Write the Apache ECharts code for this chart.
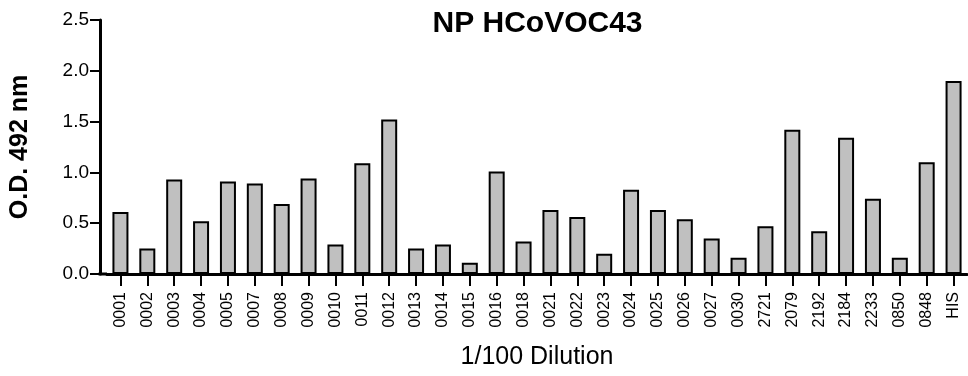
<!DOCTYPE html>
<html>
<head>
<meta charset="utf-8">
<script src="https://cdn.jsdelivr.net/npm/echarts@6/dist/echarts.min.js"></script>
<style>
  html, body { margin: 0; padding: 0; background: #fff; }
  #chart { width: 968px; height: 376px; }
</style>
</head>
<body>
<div id="chart"></div>
<script>
// Sample IDs along the x axis
const samples = ['0001','0002','0003','0004','0005','0007','0008','0009','0010','0011',
  '0012','0013','0014','0015','0016','0018','0021','0022','0023','0024','0025','0026',
  '0027','0030','2721','2079','2192','2184','2233','0850','0848','HIS'];

// Optical density at 492 nm for each sample
const odValues = [0.61, 0.25, 0.93, 0.52, 0.91, 0.89, 0.69, 0.94, 0.29, 1.09,
  1.52, 0.25, 0.29, 0.11, 1.01, 0.32, 0.63, 0.56, 0.20, 0.83, 0.63, 0.54,
  0.35, 0.16, 0.47, 1.42, 0.42, 1.34, 0.74, 0.16, 1.10, 1.90];

// Y axis tick range
const yTicks = { min: 0, max: 2.5, step: 0.5 };

const FONT = '"Liberation Sans", Arial, Helvetica, sans-serif';
const GRID = { left: 107, right: 1, top: 20, bottom: 102 };
const Y_OFFSET = 7;

const chart = echarts.init(document.getElementById('chart'), null, { renderer: 'canvas' });

chart.setOption({
  animation: false,
  backgroundColor: '#ffffff',
  title: {
    text: 'NP HCoVOC43',
    left: (GRID.left - Y_OFFSET + 968 - GRID.right) / 2 - 1,
    top: 4,
    textAlign: 'center',
    textStyle: { fontFamily: FONT, fontSize: 30, fontWeight: 'bold', color: '#000' }
  },
  grid: GRID,
  xAxis: {
    type: 'category',
    data: samples,
    boundaryGap: true,
    name: '1/100 Dilution',
    nameLocation: 'middle',
    nameGap: 71,
    nameTextStyle: { fontFamily: FONT, fontSize: 25, color: '#000' },
    axisLine: { show: true, lineStyle: { color: '#000', width: 3 } },
    axisTick: { show: true, alignWithLabel: true, length: 12, lineStyle: { color: '#000', width: 2 } },
    axisLabel: { interval: 0, rotate: 90, margin: 18, fontFamily: FONT, fontSize: 16, color: '#000' },
    splitLine: { show: false }
  },
  yAxis: {
    type: 'value',
    min: yTicks.min,
    max: yTicks.max,
    interval: yTicks.step,
    offset: Y_OFFSET,
    name: 'O.D. 492 nm',
    nameLocation: 'middle',
    nameGap: 67,
    nameTextStyle: { fontFamily: FONT, fontSize: 25, fontWeight: 'bold', color: '#000' },
    axisLine: { show: true, lineStyle: { color: '#000', width: 3 } },
    axisTick: { show: true, length: 10, lineStyle: { color: '#000', width: 2 } },
    axisLabel: { margin: 11, fontFamily: FONT, fontSize: 19, color: '#000',
      formatter: v => v.toFixed(1) },
    splitLine: { show: false }
  },
  series: [{
    type: 'bar',
    data: odValues,
    barWidth: 16,
    itemStyle: { color: '#c0c0c0', borderColor: '#000', borderWidth: 2 }
  }]
});

// Join the offset y axis to the start of the x axis line
const y0 = chart.convertToPixel({ yAxisIndex: 0 }, 0);
chart.setOption({
  graphic: [{
    type: 'line',
    z: 10,
    shape: { x1: GRID.left - Y_OFFSET - 1.5, y1: y0, x2: GRID.left, y2: y0 },
    style: { stroke: '#000', lineWidth: 3 }
  }]
});
</script>
</body>
</html>
